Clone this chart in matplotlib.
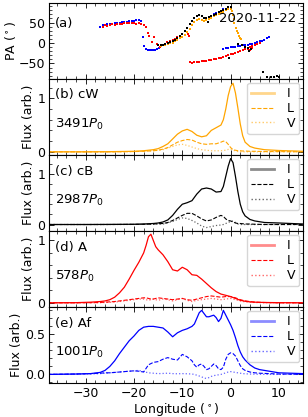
import matplotlib
matplotlib.use("Agg")
import matplotlib.pyplot as plt
from matplotlib.lines import Line2D
from matplotlib.ticker import AutoMinorLocator

# ---- panel (a): position angle points ----
blue_lon1 = [-27, -26.5, -26, -25.5, -25, -24.5, -24, -23.5, -23, -22.5, -22, -21.5, -21, -20.5,
             -20, -19.5, -19, -18.5, -18.2, -17.9, -17.6, -17.2, -16.8, -16.4, -16, -15.6, -15.2, -14.8]
blue_pa1 = [40, 44, 45, 46, 47, 47, 48, 49, 50, 51, 52, 52, 53, 54,
            55, 56, 57, 55, 15, -8, -14, -16, -17, -17, -17, -16, -15, -13]
blue_lon2 = [-7.5, -7, -3.5, -3, -2.5, -2, -1.5]
blue_pa2 = [61, 65, 70, 73, 76, 79, 82]
blue_lon3 = [-1.5, -1, -0.5, 0, 0.5, 1, 1.5, 2, 2.5, 3, 3.5, 4, 4.5, 5, 5.5, 6, 6.5, 7, 7.5, 8]
blue_pa3 = [-15, -13, -12, -11, -10, -9, -8, -7, -6, -5, -4, -3, -2, 0, 2, 4, 6, 8, 11, 14]

red_lon1 = [-26.5, -26, -25.5, -25, -24.5, -24, -23.5, -23, -22.5, -22, -21.5, -21, -20.5, -20,
            -19.5, -19, -18.5, -18, -17.5, -17.2, -16.8, -16.3, -15.9, -15.3, -14.7, -13.2,
            -12.5, -12, -11.5, -11, -10.5, -10, -8.9, -8.6]
red_pa1 = [40, 44, 42, 45, 46, 45, 46, 47, 47, 48, 48, 48, 49, 48,
           47, 48, 46, 45, 40, 24, 16, 2, 14, -2, -11, 2,
           6, 8, 10, 14, 18, 21, 22, 18]
red_lon2 = [-8.5, -8, -7.5, -7, -6.5, -6, -5.5, -5, -4.5, -4, -3.5, -3, -2.5, -2, -1.5,
            -1, -0.5, 0, 0.5, 1, 1.5, 2, 2.5, 3, 3.5, 4, 4.5, 5, 5.5, 6, 3.6, 4.0, 4.4]
red_pa2 = [-47, -48, -47, -46, -46, -45, -44, -43, -42, -41, -40, -39, -37, -36, -34,
           -32, -30, -28, -26, -24, -22, -20, -18, -15, -13, -10, -8, -5, -3, -1, -14, -18, -12]

orange_lon = [-14.5, -14, -13.5, -13, -12.5, -12, -11.5, -11, -10.5, -10, -9.5, -9, -8.5, -8, -7.5,
              -7, -6.5, -6, -5.5, -5, -4.5, -4, -3.5, -3, -2.5, -2, -1.5, -1, -0.5, 0,
              0.3, 0.45, 0.6, 0.75, 1.1, 1.3, 1.5, 1.7, 1.9, 2.1]
orange_pa = [-8, -6, -5, -3, -1, 1, 4, 7, 11, 15, 20, 27, 35, 43, 51,
             56, 58, 57, 55, 56, 59, 62, 65, 68, 71, 74, 77, 80, 82, 84,
             78, 68, 58, 50, 36, 30, 24, 18, 13, 10]

black_lon = [-15, -14.5, -14, -13.5, -13, -12.5, -12, -11.5, -11, -10.5, -10, -9.5, -9, -8.5, -8,
             -7.5, -7, -6.5, -6, -5.5, -5, -4.5, -4, -3.5, -3, -2.5, -2, -1.5, -1, -0.5, 0,
             -4.7, -0.4, 1.6, 2.3, 3.0, 3.5, 3.9, 4.3, 6.8, 7.6, 8.3, 8.9, 9.5, 10.1]
black_pa = [-6, -5, -4, -2, 0, 2, 5, 8, 12, 17, 22, 29, 37, 46, 54,
            61, 66, 68, 66, 61, 60, 63, 66, 69, 72, 75, 78, 81, 84, 87, 89,
            52, -36, -3, -6, -9, -13, -20, -15, -72, -84, -82, -84, -80, -84]

# ---- panels (b), (c): profiles of cW and cB ----
lon_core = [-38, -30, -25, -20, -18, -16, -15, -14, -13, -12, -11, -10, -9, -8, -7, -6, -5, -4,
            -3, -2, -1.5, -1, -0.5, 0, 0.5, 1, 1.5, 2, 2.5, 3, 4, 5, 7, 10, 15]
I_cw = [0, 0, 0.003, 0.01, 0.02, 0.04, 0.06, 0.1, 0.15, 0.24, 0.33, 0.39, 0.42, 0.38, 0.31, 0.28,
        0.3, 0.4, 0.45, 0.5, 0.6, 0.8, 1.05, 1.22, 1.28, 1.1, 0.82, 0.52, 0.3, 0.18, 0.1, 0.07,
        0.04, 0.025, 0.01]
L_cw = [0, 0, 0, 0.005, 0.01, 0.02, 0.03, 0.05, 0.08, 0.13, 0.18, 0.21, 0.23, 0.22, 0.18, 0.15,
        0.14, 0.15, 0.15, 0.18, 0.2, 0.19, 0.14, 0.08, 0.04, 0.03, 0.02, 0.02, 0.015, 0.015, 0.01,
        0.01, 0.005, 0.005, 0]
V_cw = [0, 0, 0, 0.005, 0.01, 0.02, 0.03, 0.04, 0.07, 0.1, 0.13, 0.14, 0.12, 0.09, 0.06, 0.04,
        0.03, 0.02, 0.02, 0.02, 0.025, 0.03, 0.045, 0.05, 0.035, 0.015, 0.005, 0, 0, 0, 0, 0,
        0, 0, 0]

I_cb = [0, 0, 0.002, 0.005, 0.01, 0.02, 0.03, 0.05, 0.09, 0.18, 0.3, 0.4, 0.43, 0.47, 0.6, 0.7,
        0.72, 0.7, 0.64, 0.65, 0.75, 0.95, 1.15, 1.3, 1.22, 0.95, 0.65, 0.4, 0.25, 0.17, 0.1, 0.07,
        0.04, 0.03, 0.01]
L_cb = [0, 0, 0, 0.002, 0.005, 0.01, 0.015, 0.02, 0.04, 0.08, 0.13, 0.18, 0.22, 0.22, 0.17, 0.11,
        0.07, 0.09, 0.14, 0.18, 0.16, 0.11, 0.08, 0.07, 0.05, 0.03, 0.02, 0.02, 0.015, 0.01, 0.01,
        0.005, 0, 0, 0]
V_cb = [0, 0, 0, 0.002, 0.004, 0.006, 0.008, 0.01, 0.03, 0.06, 0.1, 0.13, 0.12, 0.08, 0.03, -0.03,
        -0.06, -0.04, -0.02, -0.01, 0, 0.02, 0.04, 0.06, 0.07, 0.04, 0.01, 0, 0, 0, 0, 0,
        0, 0, 0]

# ---- panel (d): profile of A ----
lon_a = [-38, -32, -29, -27, -26, -25, -24, -23, -22, -21, -20, -19, -18, -17.5, -17, -16.5, -16,
         -15.5, -15, -14, -13, -12, -11, -10, -9, -8, -7, -6, -5, -4, -3, -2, -1, 0, 1, 2, 3, 4,
         5, 7, 10, 15]
I_a = [0, 0.002, 0.01, 0.02, 0.03, 0.05, 0.09, 0.16, 0.25, 0.38, 0.52, 0.65, 0.8, 0.92, 1.06,
       1.1, 1.0, 0.9, 0.85, 0.77, 0.66, 0.53, 0.51, 0.57, 0.53, 0.45, 0.44, 0.38, 0.31, 0.24,
       0.18, 0.14, 0.12, 0.1, 0.07, 0.04, 0.025, 0.015, 0.01, 0.005, 0.002, 0]
L_a = [0, 0, 0.002, 0.005, 0.01, 0.015, 0.02, 0.03, 0.04, 0.05, 0.06, 0.07, 0.08, 0.08, 0.07,
       0.06, 0.06, 0.07, 0.08, 0.07, 0.06, 0.05, 0.06, 0.07, 0.05, 0.04, 0.06, 0.08, 0.1, 0.11,
       0.1, 0.09, 0.1, 0.1, 0.08, 0.05, 0.03, 0.02, 0.01, 0.005, 0, 0]
V_a = [0, 0, 0, 0.002, 0.005, 0.008, 0.012, 0.02, 0.03, 0.04, 0.05, 0.06, 0.06, 0.05, 0.04,
       0.05, 0.06, 0.05, 0.04, 0.06, 0.05, 0.03, 0.05, 0.07, 0.04, 0.02, 0.04, 0.05, 0.06, 0.07,
       0.06, 0.05, 0.06, 0.07, 0.05, 0.03, 0.015, 0.01, 0.005, 0, 0, 0]

# ---- panel (e): profile of Af ----
lon_af = [-38, -32, -29, -27, -26, -25, -24, -23, -22, -21, -20, -19, -18, -17, -16, -15, -14,
          -13, -12, -11, -10, -9, -8, -7.5, -7, -6.5, -6, -5.5, -5, -4.5, -4, -3.5, -3, -2.5,
          -2, -1.5, -1, -0.5, 0, 0.5, 1, 1.5, 2, 2.5, 3, 4, 5, 6, 8, 10, 15]
I_af = [0, 0.005, 0.01, 0.025, 0.05, 0.1, 0.17, 0.26, 0.34, 0.42, 0.48, 0.55, 0.59, 0.6, 0.6,
        0.59, 0.58, 0.53, 0.47, 0.52, 0.55, 0.57, 0.6, 0.63, 0.7, 0.77, 0.8, 0.76, 0.72, 0.72,
        0.73, 0.74, 0.71, 0.66, 0.7, 0.8, 0.74, 0.68, 0.62, 0.55, 0.46, 0.36, 0.28, 0.22, 0.18,
        0.12, 0.08, 0.06, 0.04, 0.02, 0.01]
L_af = [0, 0.005, 0.01, 0.015, 0.02, 0.02, 0.025, 0.03, 0.035, 0.04, 0.045, 0.04, 0.03, 0.12,
        0.15, 0.16, 0.19, 0.21, 0.19, 0.18, 0.25, 0.22, 0.17, 0.12, 0.09, 0.12, 0.13, 0.1, 0.06,
        0.07, 0.1, 0.13, 0.11, 0.07, 0.06, 0.09, 0.19, 0.25, 0.27, 0.26, 0.23, 0.17, 0.11, 0.07,
        0.05, 0.03, 0.02, 0.015, 0.01, 0.005, 0]
V_af = [0, 0.002, 0.005, 0.01, 0.015, 0.02, 0.025, 0.03, 0.035, 0.04, 0.045, 0.05, 0.035, 0.02,
        0.015, 0.01, 0.012, 0.015, 0.01, 0.008, 0.01, 0.008, 0.005, 0, -0.01, -0.02, -0.03,
        -0.045, -0.05, -0.04, -0.025, -0.015, -0.01, -0.005, 0, 0.01, 0.02, 0.03, 0.035, 0.03,
        0.025, 0.02, 0.015, 0.01, 0.008, 0.005, 0.003, 0.002, 0, 0, 0]

profiles = [
    ("(b) cW", "3491", "orange", lon_core, I_cw, L_cw, V_cw, (-0.06, 1.36), [0, 1], ["0", "1"]),
    ("(c) cB", "2987", "black", lon_core, I_cb, L_cb, V_cb, (-0.13, 1.37), [0, 1], ["0", "1"]),
    ("(d) A", "578", "red", lon_a, I_a, L_a, V_a, (-0.07, 1.15), [0, 1], ["0", "1"]),
    ("(e) Af", "1001", "blue", lon_af, I_af, L_af, V_af, (-0.11, 0.84), [0, 0.5], ["0.0", "0.5"]),
]

plt.rcParams["font.size"] = 9
plt.rcParams["mathtext.fontset"] = "dejavusans"

fig, axes = plt.subplots(5, 1, figsize=(3.08, 4.17), dpi=100, sharex=True)
fig.subplots_adjust(left=0.159, right=0.984, top=0.993, bottom=0.081, hspace=0)

for ax in axes:
    ax.xaxis.set_minor_locator(AutoMinorLocator())
    ax.yaxis.set_minor_locator(AutoMinorLocator())
    ax.tick_params(which="both", direction="in", top=True, right=True, labelsize=9, pad=2.5)
    ax.tick_params(which="major", length=3.5, width=0.6)
    ax.tick_params(which="minor", length=2, width=0.5)
    for sp in ax.spines.values():
        sp.set_linewidth(0.8)

# panel (a)
ax = axes[0]
ms = 3.5
ax.scatter(blue_lon1, blue_pa1, s=ms, c="blue", marker="s", linewidths=0)
ax.scatter(blue_lon2, blue_pa2, s=ms, c="blue", marker="s", linewidths=0)
ax.scatter(blue_lon3, blue_pa3, s=ms, c="blue", marker="s", linewidths=0)
ax.scatter(red_lon1, red_pa1, s=ms, c="red", marker="s", linewidths=0)
ax.scatter(red_lon2, red_pa2, s=ms, c="red", marker="s", linewidths=0)
ax.scatter(orange_lon, orange_pa, s=ms, c="orange", marker="s", linewidths=0)
ax.scatter(black_lon, black_pa, s=ms, c="black", marker="s", linewidths=0)
ax.set_ylim(-88, 98)
ax.set_yticks([-50, 0, 50])
ax.set_ylabel(r"PA ($^\circ$)", labelpad=1)
ax.text(0.025, 0.68, "(a)", transform=ax.transAxes, fontsize=9.5)
ax.text(0.975, 0.8, "2020-11-22", transform=ax.transAxes, ha="right", va="center", fontsize=9.5)

for ax, (tag, period, col, lon, I, L, V, ylim, yt, ytl) in zip(axes[1:], profiles):
    ax.plot(lon, I, color=col, lw=0.9)
    ax.plot(lon, L, color=col, lw=0.8, ls="--")
    ax.plot(lon, V, color=col, lw=0.9, ls=":", alpha=0.6)
    ax.set_ylim(*ylim)
    ax.set_yticks(yt)
    ax.set_yticklabels(ytl)
    ax.set_ylabel("Flux (arb.)", labelpad=1.5)
    ax.text(0.025, 0.79, tag, transform=ax.transAxes, va="center", fontsize=9.5)
    ax.text(0.025, 0.40, period + r"$P_0$", transform=ax.transAxes, va="center", fontsize=9.5)
    handles = [Line2D([], [], color=col, lw=2, alpha=0.45),
               Line2D([], [], color=col, lw=0.8, ls="--"),
               Line2D([], [], color=col, lw=1, ls=":", alpha=0.6)]
    ax.legend(handles, ["I", "L", "V"], loc="upper right", fontsize=9, labelspacing=0.15,
              handlelength=1.8, borderpad=0.35, handletextpad=1.0, borderaxespad=0.3)

axes[-1].set_xlim(-37.6, 15)
axes[-1].set_xticks([-30, -20, -10, 0, 10])
axes[-1].set_xlabel(r"Longitude ($^\circ$)", labelpad=1)

fig.savefig("out.png", dpi=100)
